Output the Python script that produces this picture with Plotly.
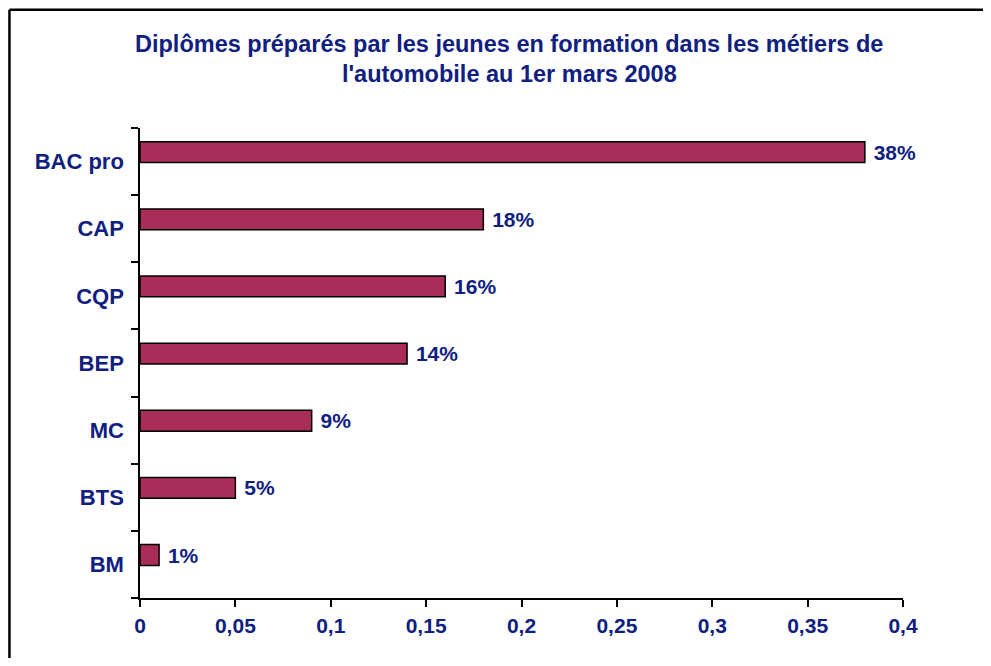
import plotly.graph_objects as go

# Data (bottom to top)
categories = ["BM", "BTS", "MC", "BEP", "CQP", "CAP", "BAC pro"]
values = [0.01, 0.05, 0.09, 0.14, 0.16, 0.18, 0.38]
value_labels = ["1%", "5%", "9%", "14%", "16%", "18%", "38%"]
x_tickvals = [0, 0.05, 0.1, 0.15, 0.2, 0.25, 0.3, 0.35, 0.4]
x_ticktext = ["0", "0,05", "0,1", "0,15", "0,2", "0,25", "0,3", "0,35", "0,4"]
title_lines = ["Diplômes préparés par les jeunes en formation dans les métiers de",
               "l'automobile au 1er mars 2008"]

NAVY = "#0F2080"
BAR = "#A82D59"
FONT = "Liberation Sans, Arial, sans-serif"

fig = go.Figure()
fig.add_trace(go.Bar(
    y=categories, x=values, orientation="h",
    width=0.31, offset=-0.015,
    marker=dict(color=BAR, line=dict(color="black", width=1.5)),
    text=[" " + s for s in value_labels], textposition="outside",
    constraintext="none",
    textfont=dict(family=FONT, size=21, color=NAVY, weight="bold"),
    cliponaxis=False, hoverinfo="skip", showlegend=False,
))

fig.update_layout(
    width=975, height=650,
    margin=dict(l=132, r=80, t=120, b=60),
    paper_bgcolor="white", plot_bgcolor="white",
    font=dict(family=FONT, size=20, color=NAVY),
    bargap=0.69,
    xaxis=dict(range=[0, 0.4], tickvals=x_tickvals, ticktext=x_ticktext,
               showgrid=False, zeroline=False, showline=True, linecolor="black",
               linewidth=1.5, ticks="outside", ticklen=7, tickwidth=1.5,
               tickcolor="black", ticklabelstandoff=1,
               tickfont=dict(family=FONT, size=21, color=NAVY, weight="bold")),
    yaxis=dict(type="category", categoryorder="array", categoryarray=categories,
               range=[-0.5, 6.5], showgrid=False, zeroline=False, showline=True,
               linecolor="black", linewidth=1.5, ticks="outside", ticklen=7,
               tickwidth=1.5, tickcolor="black", tickson="boundaries",
               ticklabelstandoff=10,
               tickfont=dict(family=FONT, size=22, color=NAVY, weight="bold")),
    shapes=[
        dict(type="line", xref="paper", yref="paper",
             x0=-0.1711, x1=1.105, y0=1.2517, y1=1.2517,
             line=dict(color="black", width=2.5), layer="below"),
        dict(type="line", xref="paper", yref="paper",
             x0=-0.1711, x1=-0.1711, y0=-0.145, y1=1.2517,
             line=dict(color="black", width=2.5), layer="below"),
    ],
)

for line, ypx in zip(title_lines, [44, 74]):
    fig.add_annotation(text=f"<b>{line}</b>", xref="paper", yref="paper",
                       x=(509 - 140) / 763, y=(598 - ypx) / 470,
                       xanchor="center", yanchor="middle", showarrow=False,
                       font=dict(family=FONT, size=23.5, color=NAVY))

fig.write_html("out.html")
